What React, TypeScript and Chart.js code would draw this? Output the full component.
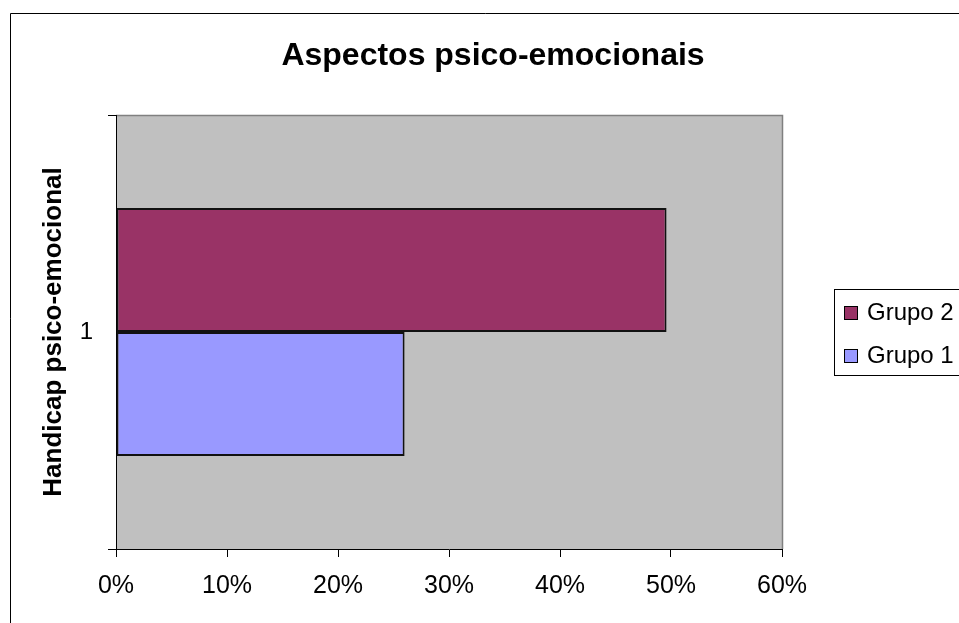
import React, { useEffect, useRef } from "react";
import { Chart, registerables } from "chart.js";

Chart.register(...registerables);

const chartTitle = "Aspectos psico-emocionais";
const yAxisTitle = "Handicap psico-emocional";
const categories = ["1"];
const seriesNames = ["Grupo 2", "Grupo 1"];
const grupo2Values = [0.496];
const grupo1Values = [0.26];
const seriesColors = ["#993366", "#9999FF"];
const xTickMax = 0.6;
const xTickStep = 0.1;

const FONT = "'Liberation Sans', Arial, sans-serif";

const decorPlugin = {
  id: "decor",
  beforeDraw(chart: any) {
    const { ctx, chartArea, width, height } = chart;
    ctx.save();
    ctx.fillStyle = "#ffffff";
    ctx.fillRect(0, 0, width, height);
    // outer chart border (left & top visible)
    ctx.strokeStyle = "#000000";
    ctx.lineWidth = 1;
    ctx.beginPath();
    ctx.moveTo(10.5, height + 5);
    ctx.lineTo(10.5, 13.5);
    ctx.lineTo(width + 5, 13.5);
    ctx.stroke();
    // plot area
    ctx.fillStyle = "#C0C0C0";
    ctx.fillRect(chartArea.left, chartArea.top, chartArea.right - chartArea.left, chartArea.bottom - chartArea.top);
    ctx.strokeStyle = "#808080";
    ctx.lineWidth = 1.5;
    ctx.beginPath();
    ctx.moveTo(chartArea.left, chartArea.top + 0.5);
    ctx.lineTo(chartArea.right + 0.5, chartArea.top + 0.5);
    ctx.lineTo(chartArea.right + 0.5, chartArea.bottom);
    ctx.stroke();
    ctx.restore();
  },
  afterDraw(chart: any) {
    const { ctx } = chart;
    ctx.save();
    // title
    ctx.fillStyle = "#000000";
    ctx.font = `bold 32px ${FONT}`;
    ctx.textAlign = "center";
    ctx.textBaseline = "alphabetic";
    ctx.fillText(chartTitle, 493, 65);
    // legend
    ctx.strokeStyle = "#000000";
    ctx.lineWidth = 1;
    ctx.strokeRect(834.5, 289.5, 200, 86);
    ctx.font = `24px ${FONT}`;
    ctx.textAlign = "left";
    const ds = chart.data.datasets;
    ds.forEach((d: any, i: number) => {
      const baseY = 320 + i * 43;
      ctx.fillStyle = d.backgroundColor;
      ctx.fillRect(844, baseY - 14, 14, 14);
      ctx.strokeRect(844.5, baseY - 13.5, 13, 13);
      ctx.fillStyle = "#000000";
      ctx.fillText(d.label, 867, baseY);
    });
    ctx.restore();
  },
};

export default function App() {
  const ref = useRef<HTMLCanvasElement | null>(null);
  useEffect(() => {
    if (!ref.current) return;
    const chart = new Chart(ref.current, {
      type: "bar",
      data: {
        labels: categories,
        datasets: [
          {
            label: seriesNames[0],
            data: grupo2Values,
            backgroundColor: seriesColors[0],
            borderColor: "#111111",
            borderWidth: 2,
            borderSkipped: false,
            categoryPercentage: 2 / 3.5,
            barPercentage: 1,
          },
          {
            label: seriesNames[1],
            data: grupo1Values,
            backgroundColor: seriesColors[1],
            borderColor: "#111111",
            borderWidth: 2,
            borderSkipped: false,
            categoryPercentage: 2 / 3.5,
            barPercentage: 1,
          },
        ],
      },
      options: {
        indexAxis: "y",
        animation: false,
        responsive: false,
        maintainAspectRatio: false,
        layout: { padding: { left: 0, top: 115, right: 177, bottom: 0 } },
        plugins: {
          legend: { display: false },
          title: { display: false },
          tooltip: { enabled: false },
        },
        scales: {
          x: {
            type: "linear",
            min: 0,
            max: xTickMax,
            afterFit: (s: any) => {
              s.height = 74;
            },
            ticks: {
              stepSize: xTickStep,
              color: "#000000",
              font: { family: FONT, size: 25 },
              padding: 14,
              callback: (v: any) => Math.round(Number(v) * 100) + "%",
            },
            grid: {
              drawOnChartArea: false,
              drawTicks: true,
              tickLength: 8,
              color: "#000000",
            },
            border: { display: true, color: "#000000", width: 1 },
          },
          y: {
            type: "category",
            offset: true,
            afterFit: (s: any) => {
              s.width = 116;
            },
            ticks: {
              color: "#000000",
              font: { family: FONT, size: 24 },
              padding: 15,
            },
            grid: {
              offset: true,
              drawOnChartArea: false,
              drawTicks: true,
              tickLength: 8,
              color: "#000000",
            },
            border: { display: true, color: "#000000", width: 1 },
            title: {
              display: true,
              text: yAxisTitle,
              color: "#000000",
              font: { family: FONT, size: 26, weight: "bold" },
              padding: { top: 38, bottom: 0 },
            },
          },
        },
      },
      plugins: [decorPlugin],
    } as any);
    return () => chart.destroy();
  }, []);
  return (
    <div style={{ position: "absolute", left: 0, top: 0, width: 959, height: 623 }}>
      <canvas ref={ref} width={959} height={623} style={{ display: "block" }} />
    </div>
  );
}
